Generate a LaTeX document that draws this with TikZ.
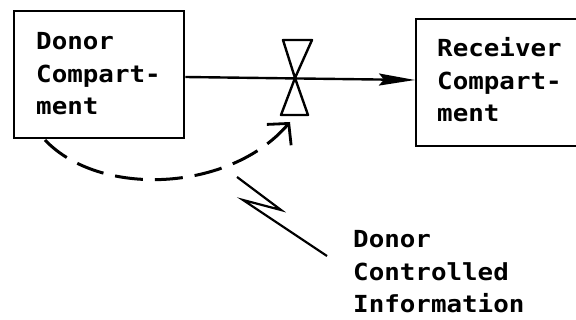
\documentclass[tikz,border=0pt]{standalone}
\usepackage{fontspec}
\newfontfamily\monofont[FakeStretch=1.1]{DejaVu Sans Mono}
\usetikzlibrary{arrows.meta}

\tikzset{
  compartment/.style={draw, line width=2.4pt, rectangle, inner sep=0pt},
  % multi-line labels are anchored on the baseline of their last line
  label text/.style={anchor=base west, inner sep=0pt, align=left,
    font=\monofont\bfseries\fontsize{23.5}{32.8}\selectfont},
  flowline/.style={line width=2.4pt},
  valveline/.style={line width=2.4pt, line join=round},
  infoline/.style={line width=3pt, dash pattern=on 28pt off 12pt},
  zigzag/.style={line width=2.2pt, line join=miter}
}

\begin{document}
\begin{tikzpicture}[x=1pt, y=-1pt]
  \useasboundingbox (0,0) rectangle (576,320);

  % compartments (the receiver box runs off the right edge)
  \node[compartment, minimum width=170pt, minimum height=127pt, anchor=north west]
    (donor) at (13,10) {};
  \node[compartment, minimum width=180pt, minimum height=127pt, anchor=north west]
    (receiver) at (415,18) {};

  \node[label text] (donortext) at (36,115) {Donor\\Compart-\\ment};
  \node[label text] (receivertext) at (437,122) {Receiver\\Compart-\\ment};
  \node[label text] (infotext) at (353,313) {Donor\\Controlled\\Information};

  % flow through the valve
  \coordinate (valve) at (295,78);
  \coordinate (flowstart) at (donor.east |- 0,77);
  \coordinate (flowend) at (receiver.west |- 0,80);
  \draw[flowline, -{Stealth[length=36pt, width=12pt, inset=5pt]}] (flowstart) -- (flowend);

  % bow-tie valve symbol
  \draw[valveline] (valve) -- ++(-12,-38) -- ++(29,0) -- cycle;
  \draw[valveline] (valve) -- ++(-14,37) -- ++(27,0) -- cycle;

  % dashed control signal from donor to valve
  \coordinate (infostart) at (45,140);
  \coordinate (infoend) at (290,122);
  \draw[infoline, -{Straight Barb[length=15pt, width=32pt, line width=2.8pt]}]
    (infostart) .. controls (100,198) and (230,192) .. (infoend);

  % zig-zag pointer from the label to the signal
  \coordinate (zzA) at (237,177);
  \coordinate (zzB) at (281,210);
  \coordinate (zzC) at (243,200);
  \coordinate (zzD) at (327,256);
  \draw[zigzag] (zzA) -- (zzB) -- (zzC) -- (zzD);
\end{tikzpicture}
\end{document}
